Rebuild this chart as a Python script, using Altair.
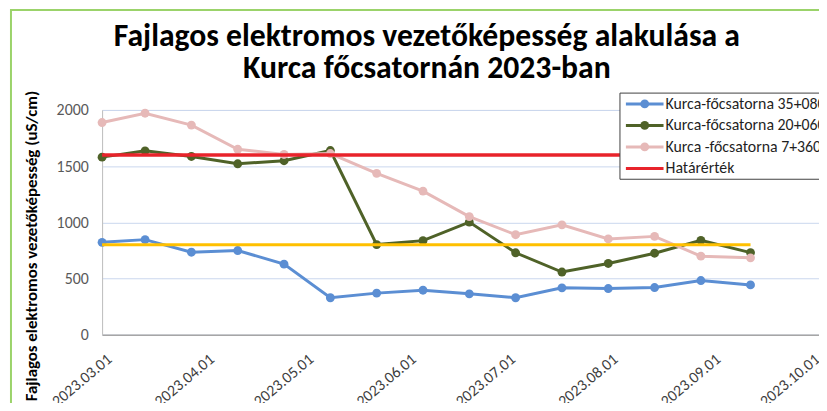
import altair as alt
import pandas as pd

# ---- data ----
dates = ["2023-03-01", "2023-03-14", "2023-03-28", "2023-04-11", "2023-04-25",
         "2023-05-09", "2023-05-23", "2023-06-06", "2023-06-20", "2023-07-04",
         "2023-07-18", "2023-08-01", "2023-08-15", "2023-08-29", "2023-09-13"]
s1_name = "Kurca-főcsatorna 35+080"
s2_name = "Kurca-főcsatorna 20+060"
s3_name = "Kurca -főcsatorna 7+360"
limit_name = "Határérték"
s1 = [822, 846, 734, 749, 628, 329, 370, 396, 364, 329, 417, 411, 420, 482, 443]
s2 = [1580, 1636, 1586, 1521, 1548, 1639, 802, 837, 1002, 729, 558, 634, 725, 840, 731]
s3 = [1888, 1971, 1865, 1650, 1604, 1612, 1436, 1278, 1051, 890, 978, 852, 875, 699, 684]
limit_red = 1600
limit_orange = 800
month_ticks = ["2023-03-01", "2023-04-01", "2023-05-01", "2023-06-01",
               "2023-07-01", "2023-08-01", "2023-09-01", "2023-10-01"]
y_ticks = [0, 500, 1000, 1500, 2000]

names = [s1_name, s2_name, s3_name, limit_name]
colors = ["#5B8ED3", "#4F6228", "#E6B9B8", "#E8232B"]
orange = "#FFC000"

FONT = "Carlito, Lato, sans-serif"

rows = []
for name, vals in [(s1_name, s1), (s2_name, s2), (s3_name, s3)]:
    for d, v in zip(dates, vals):
        rows.append({"date": d, "value": v, "series": name})
df = pd.DataFrame(rows)

lim_red = pd.DataFrame({"start": [dates[0]], "end": [dates[-1]], "value": [limit_red], "series": [limit_name]})
lim_or = pd.DataFrame({"start": [dates[0]], "end": [dates[-1]], "value": [limit_orange]})

leg = pd.DataFrame({"series": names, "row": list(range(len(names))),
                    "marker": [True, True, True, False]})

def ms(s):
    return int(pd.Timestamp(s, tz="UTC").value // 10**6)

day = 86400000
x_domain = [ms("2023-03-01"), ms("2023-03-01") + int(216.7 * day)]
tick_vals = [ms(t) for t in month_ticks]

cscale = alt.Scale(domain=names, range=colors)
xscale = alt.Scale(type="utc", domain=x_domain, nice=False)
yscale = alt.Scale(domain=[0, 2000], nice=False)

x_axis = alt.Axis(values=tick_vals, format="%Y.%m.%d", labelAngle=-40, labelAlign="right",
                  labelBaseline="top", labelFontSize=16, labelColor="#404040", labelFont=FONT,
                  grid=False, ticks=False, domainColor="#A6A6A6", domainWidth=1.5,
                  labelPadding=16, labelOffset=2, title=None, labelOverlap=False)
y_axis = alt.Axis(values=y_ticks, format="d", labelFontSize=16, labelColor="#595959", labelFont=FONT,
                  grid=True, gridColor="#C9D7EE", gridWidth=1, ticks=False,
                  domainColor="#BFBFBF", labelPadding=14,
                  title="Fajlagos elektromos vezetőképesség (uS/cm)",
                  titleFont=FONT, titleFontSize=17, titleFontWeight="bold", titleColor="#000000",
                  titleAngle=-90, titleX=-66, titleY=137, titleAlign="center",
                  titleBaseline="alphabetic")

base = alt.Chart(df)
X = alt.X("date:T", scale=xscale, axis=x_axis)
Y = alt.Y("value:Q", scale=yscale, axis=y_axis)
C = alt.Color("series:N", scale=cscale, legend=None)

lines = base.mark_line(strokeWidth=3).encode(x=X, y=Y, color=C)
points = base.mark_circle(size=80, opacity=1).encode(x=X, y=Y, color=C)
red_rule = alt.Chart(lim_red).mark_rule(strokeWidth=3.5).encode(
    x=alt.X("start:T", scale=xscale, axis=x_axis), x2="end:T", y=Y, color=C)
or_rule = alt.Chart(lim_or).mark_rule(strokeWidth=3, color=orange).encode(
    x=alt.X("start:T", scale=xscale, axis=x_axis), x2="end:T", y=Y)

border = alt.Chart(pd.DataFrame({"a": [0]})).mark_rect(
    fill="white", fillOpacity=0, stroke="#9BD36A", strokeWidth=2).encode(
    x=alt.value(-92), x2=alt.value(760), y=alt.value(-101), y2=alt.value(420))

main = alt.layer(border, lines, points, red_rule, or_rule)

# legend
lscale = alt.Scale(domain=[0.28, 0.28 + 227 / 21.7], reverse=True)
LY = alt.Y("row:Q", scale=lscale, axis=None)
lbox = alt.Chart(pd.DataFrame({"a": [0]})).mark_rect(
    fill="white", stroke="#404040", strokeWidth=1).encode(
    x=alt.value(523), x2=alt.value(760), y=alt.value(-17), y2=alt.value(70))
lline = alt.Chart(leg).mark_rule(strokeWidth=3).encode(
    x=alt.value(529), x2=alt.value(567), y=LY, color=C)
lpt = alt.Chart(leg).transform_filter("datum.marker").mark_circle(size=80, opacity=1).encode(
    x=alt.value(548), y=LY, color=C)
ltext = alt.Chart(leg).mark_text(align="left", baseline="middle", fontSize=16,
                                 font=FONT, color="#1F1F1F").encode(
    x=alt.value(569), y=LY, text="series:N")
legend = alt.layer(lbox, lline, lpt, ltext)

chart = alt.layer(main, legend).resolve_scale(y="independent").properties(
    width=724, height=227,
    title=alt.TitleParams(
        text=["Fajlagos elektromos vezetőképesség alakulása a", "Kurca főcsatornán 2023-ban"],
        font=FONT, fontSize=32, fontWeight="bold", color="#000000",
        anchor="middle", dx=-34, dy=102, lineHeight=33, offset=0, baseline="alphabetic"),
    autosize=alt.AutoSizeParams(type="none"),
    padding={"left": 95, "top": 101, "right": 0, "bottom": 67},
).configure_view(stroke=None).configure(background="white")

chart.save("out.html", embed_options={"renderer": "svg", "actions": False})
